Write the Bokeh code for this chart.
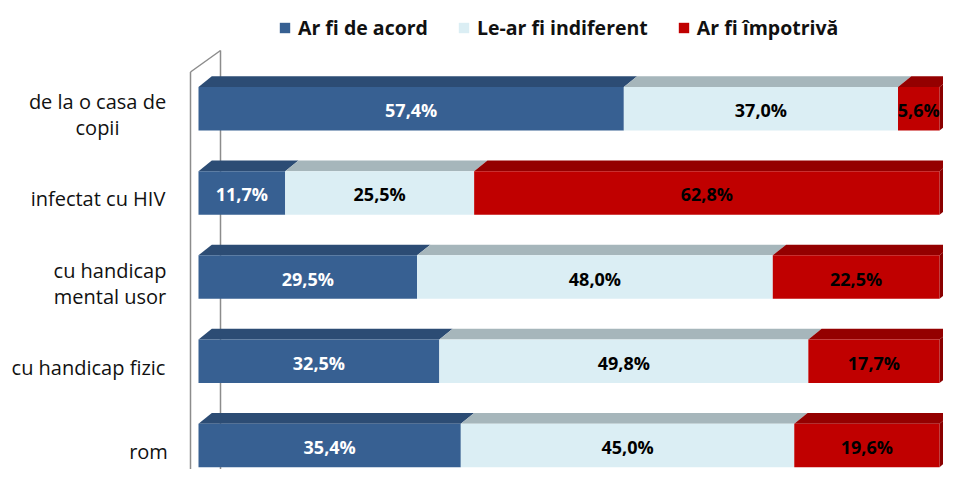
from bokeh.plotting import figure
from bokeh.models import Range1d, ColumnDataSource, Legend, LegendItem
from bokeh.core.properties import value
from bokeh.embed import file_html
from bokeh.resources import INLINE

# ---------------- data ----------------
categories = ["de la o casa de\ncopii", "infectat cu HIV", "cu handicap\nmental usor",
              "cu handicap fizic", "rom"]
series_names = ["Ar fi de acord", "Le-ar fi indiferent", "Ar fi împotrivă"]
acord = [57.4, 11.7, 29.5, 32.5, 35.4]
indiferent = [37.0, 25.5, 48.0, 49.8, 45.0]
impotriva = [5.6, 62.8, 22.5, 17.7, 19.6]

# ---------------- style ----------------
front_colors = ["#376092", "#DBEEF4", "#C00000"]
top_colors = ["#2C4C74", "#A6B6BB", "#940000"]
side_color = "#8A0000"
label_colors = ["white", "black", "black"]
FONT = "Open Sans"

W, H = 943, 469
PX_PER_PCT = 7.41
ZERO_PX = 198               # x of 0% in canvas pixels
ROW_PX = 84.15
ROW0_PX = 108.3             # y of first row centre in canvas pixels


def px2x(px):
    return (px - ZERO_PX) / PX_PER_PCT


def py2y(py):
    return (py - ROW0_PX) / ROW_PX


p = figure(width=W, height=H, x_range=Range1d(px2x(0), px2x(W)),
           y_range=Range1d(py2y(H), py2y(0)), min_border=0,
           toolbar_location=None, output_backend="svg",
           x_axis_location=None, y_axis_location=None,
           outline_line_color=None, background_fill_color="white")
p.grid.visible = False

bar_h = 43.5 / ROW_PX
dx = 13.3 / PX_PER_PCT
dy = 10.7 / ROW_PX

# ---------------- 3D wall lines ----------------
wall_col = "#8C8C8C"
fx, bx = px2x(ZERO_PX - 8), px2x(ZERO_PX + 22)
p.line([fx, fx], [py2y(71.5), py2y(520)], line_color=wall_col, line_width=1.5)
p.line([fx, bx], [py2y(71.5), py2y(50)], line_color=wall_col, line_width=1.5)
p.line([bx, bx], [py2y(50), py2y(470)], line_color=wall_col, line_width=1.5)
p.line([bx, fx], [py2y(470), py2y(491.5)], line_color=wall_col, line_width=1.5)

# ---------------- bars ----------------
series = [acord, indiferent, impotriva]
rows = list(range(len(categories)))
lefts = [0.0] * len(categories)
front_renderers = []
for k, vals in enumerate(series):
    rights = [l + v for l, v in zip(lefts, vals)]
    xs_top, ys_top = [], []
    for i, (l, r) in enumerate(zip(lefts, rights)):
        yt = i - bar_h / 2
        xs_top.append([l, r, r + dx, l + dx])
        ys_top.append([yt, yt, yt - dy, yt - dy])
    p.patches(xs_top, ys_top, fill_color=top_colors[k], line_color=None)
    if k == len(series) - 1:
        xs_s, ys_s = [], []
        for i, r in enumerate(rights):
            yt, yb = i - bar_h / 2, i + bar_h / 2
            xs_s.append([r, r + dx, r + dx, r])
            ys_s.append([yb, yb - dy, yt - dy, yt])
        p.patches(xs_s, ys_s, fill_color=side_color, line_color=None)
    src = ColumnDataSource(dict(
        y=rows, left=lefts, right=rights,
        mid=[(l + r) / 2 for l, r in zip(lefts, rights)],
        ty=[i + 1.5 / ROW_PX for i in rows],
        lab=[("%.1f%%" % v).replace(".", ",") for v in vals]))
    rr = p.hbar(y="y", left="left", right="right", height=bar_h, source=src,
                fill_color=front_colors[k], line_color=None)
    front_renderers.append(rr)
    p.text(x="mid", y="ty", text="lab", source=src, text_align="center",
           text_baseline="middle", text_font=value(FONT), text_font_style="bold",
           text_font_size="18px", text_color=label_colors[k])
    lefts = rights

# ---------------- category labels ----------------
label_center_px = [97, 97.5, 109.5, 88, 148]
cat_src = ColumnDataSource(dict(
    x=[px2x(c) for c in label_center_px],
    y=[i + 6.0 / ROW_PX for i in rows],
    t=categories))
p.text(x="x", y="y", text="t", source=cat_src, text_align="center",
       text_baseline="middle", text_font=value(FONT), text_font_size="20px",
       text_color="#111111", text_line_height=0.96)

# ---------------- legend ----------------
legend = Legend(items=[LegendItem(label=n, renderers=[r])
                       for n, r in zip(series_names, front_renderers)],
                orientation="horizontal", location=(278, 428),
                glyph_width=13, glyph_height=13, label_standoff=7, spacing=29,
                padding=0, margin=0, border_line_alpha=0, background_fill_alpha=0,
                label_text_font=FONT, label_text_font_style="bold",
                label_text_font_size="19.5px", label_text_color="#111111",
                label_height=13)
p.add_layout(legend, "center")

open("out.html", "w").write(file_html(p, INLINE))
